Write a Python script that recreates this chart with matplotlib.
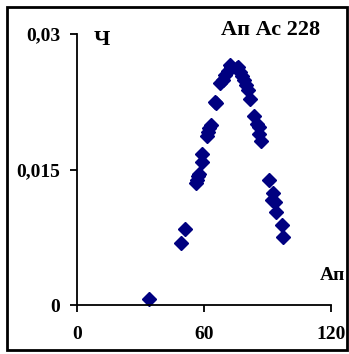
import numpy as np
import matplotlib.pyplot as plt
from matplotlib.patches import Rectangle

# values
ap = [34.0, 49.1, 51.2, 56.2, 56.7, 57.2, 57.6, 58.9, 59.2, 61.6, 61.9, 62.4, 63.2,
      65.2, 65.7, 67.6, 68.8, 70.1, 71.3, 72.3, 72.6, 75.7, 76.2, 77.0, 77.9, 79.0,
      79.8, 80.9, 81.6, 83.8, 84.9, 85.8, 86.1, 86.9, 90.8, 92.4, 91.9, 93.5, 94.0,
      96.7, 97.1]
ch = [0.00066, 0.0069, 0.00845, 0.01347, 0.01384, 0.01428, 0.0145, 0.01587, 0.01672,
      0.0187, 0.0192, 0.01956, 0.01993, 0.02251, 0.0224, 0.02454, 0.0249, 0.02546,
      0.02593, 0.0266, 0.02638, 0.0262, 0.02635, 0.02583, 0.02535, 0.0249, 0.02435,
      0.0238, 0.02284, 0.02096, 0.02004, 0.01967, 0.01893, 0.01819, 0.0138, 0.01237,
      0.01163, 0.01137, 0.01033, 0.00886, 0.00756]
xticks = [0, 60, 120]
yticks = [0, 0.015, 0.03]
ylabels = ["0", "0,015", "0,03"]

plt.rcParams['font.family'] = 'Liberation Serif'
plt.rcParams['font.weight'] = 'bold'

W, H = 349, 354
fig = plt.figure(figsize=(W / 100, H / 100), dpi=100)
ax = fig.add_axes([77 / W, (H - 305) / H, (331 - 77) / W, (305 - 34) / H])

ax.plot(ap, ch, linestyle='none', marker='D', markersize=7,
        color='#000080', clip_on=False)

ax.set_xlim(0, 120)
ax.set_ylim(0, 0.03)
ax.set_xticks(xticks)
ax.set_xticklabels([str(t) for t in xticks], fontsize=14, fontweight='bold')
ax.set_yticks(yticks)
ax.set_yticklabels(ylabels, fontsize=14, fontweight='bold')
ax.tick_params(direction='out', length=5, width=1.3, pad=7, color='black')
ax.tick_params(axis='x', pad=10)
for s in ['top', 'right']:
    ax.spines[s].set_visible(False)
for s in ['left', 'bottom']:
    ax.spines[s].set_linewidth(1.3)

fig.text(102 / W, 1 - 40 / H, "Ч", fontsize=16, fontweight='bold',
         ha='center', va='center')
fig.text(332 / W, 1 - 275 / H, "Ап", fontsize=14, fontweight='bold',
         ha='center', va='center')
fig.text(271 / W, 1 - 30 / H, "Ап Ас 228", fontsize=16, fontweight='bold',
         ha='center', va='center')

fig.patches.append(Rectangle((7 / W, 4 / H), 340 / W, 343 / H, transform=fig.transFigure,
                             fill=False, edgecolor='black', linewidth=2))

fig.savefig('out.png', dpi=100)
